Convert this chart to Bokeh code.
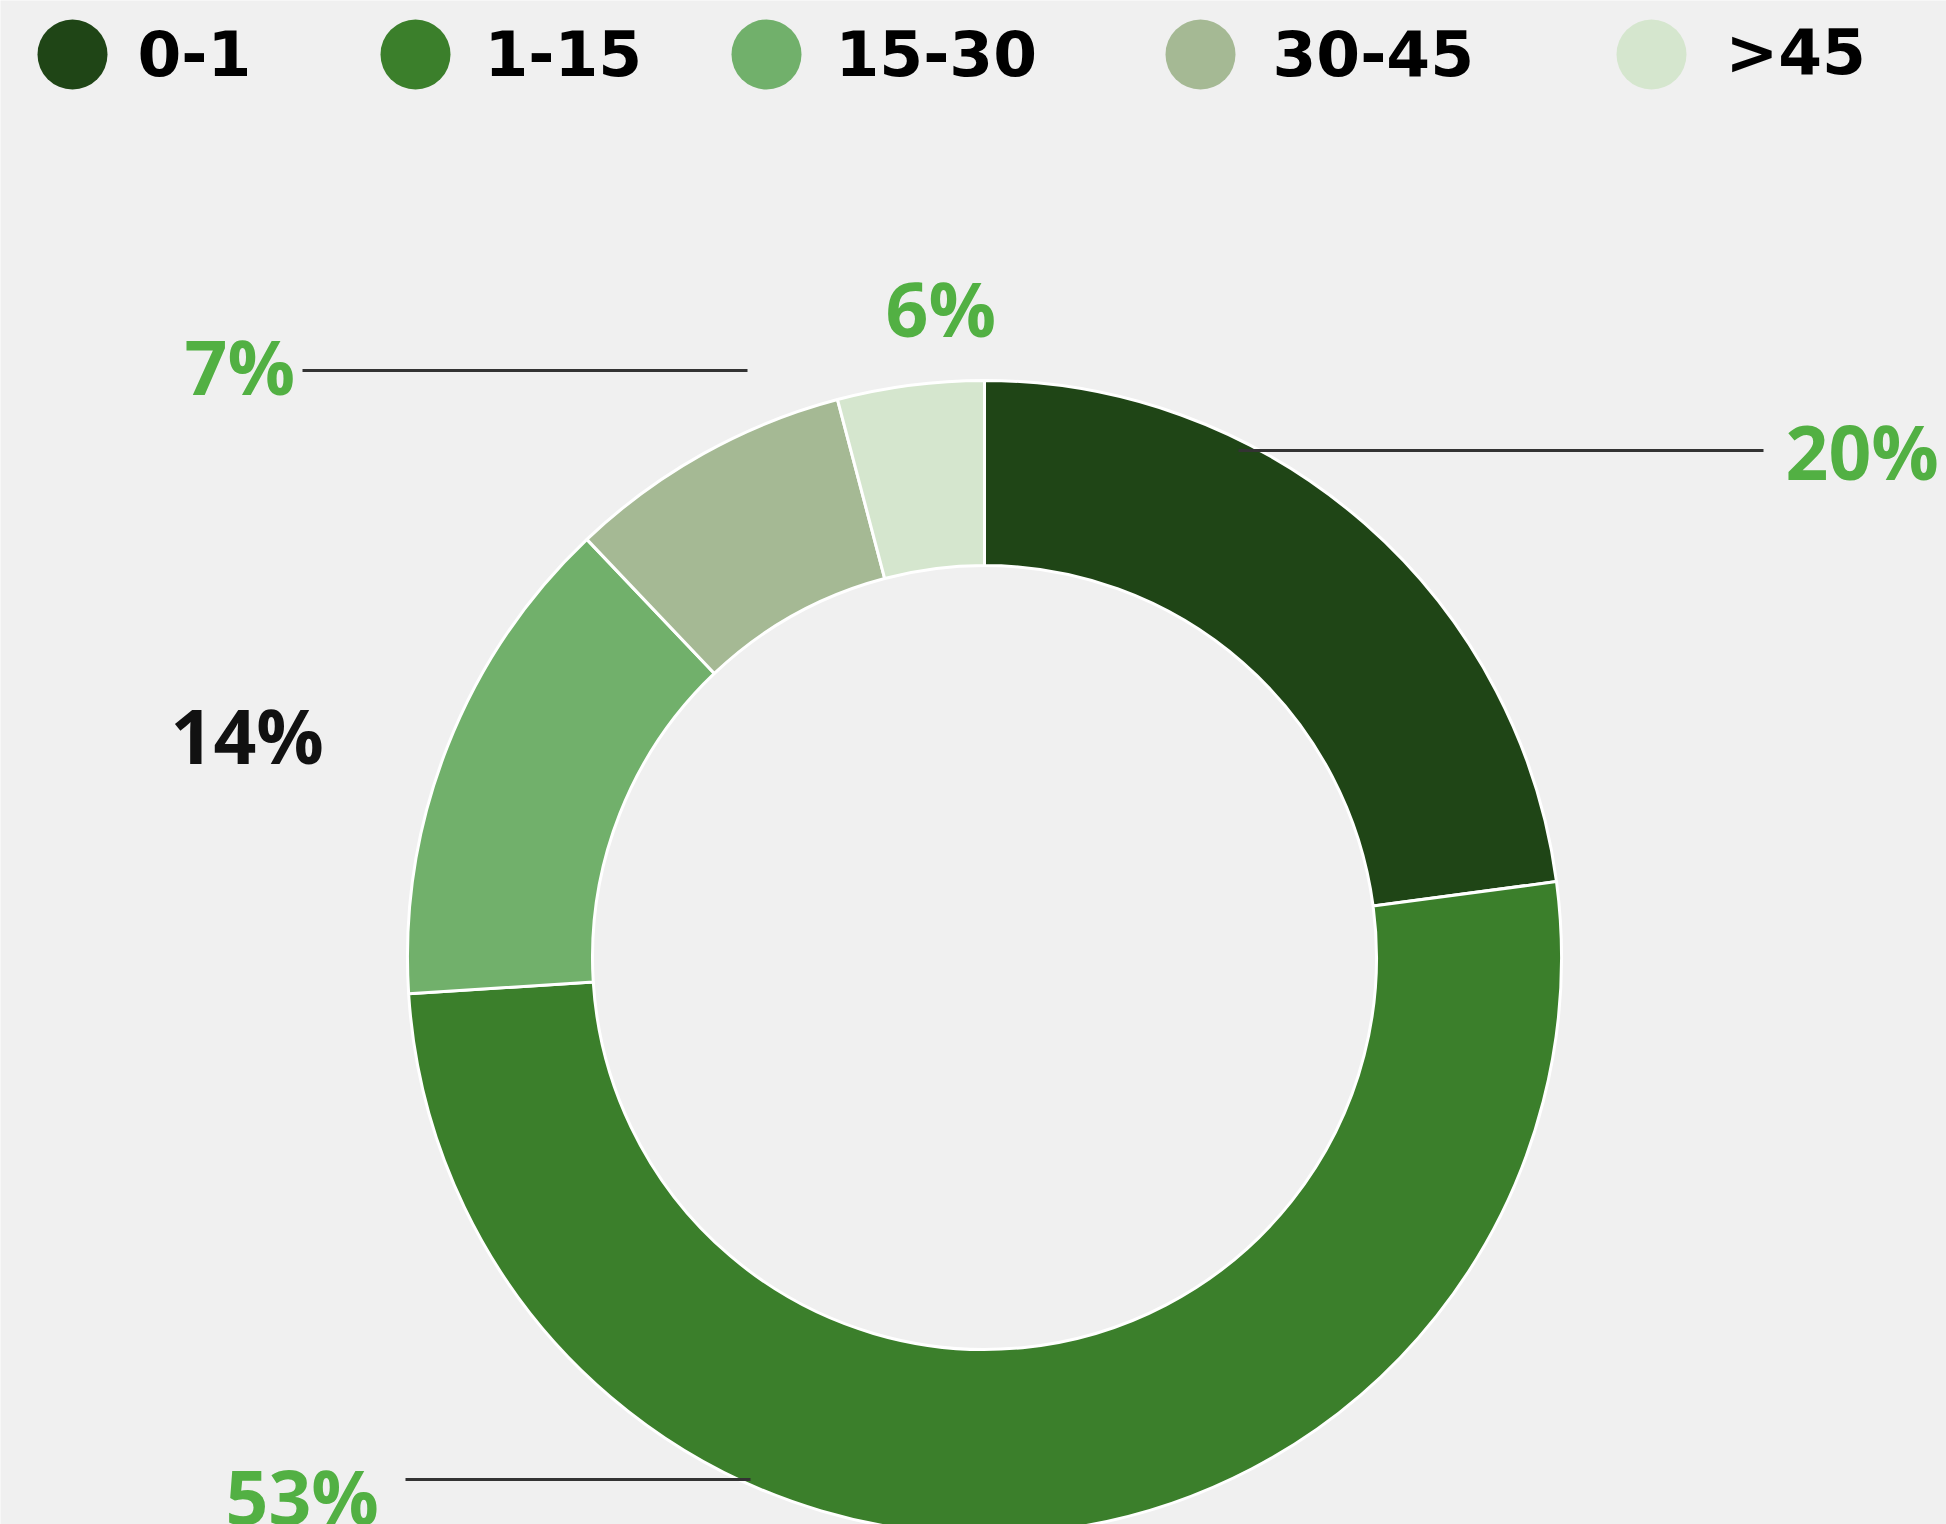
import numpy as np
from bokeh.plotting import figure
from bokeh.models import ColumnDataSource, Range1d
from bokeh.core.properties import value
from bokeh.embed import file_html
from bokeh.resources import INLINE

# ---- data ----
categories = ["0-1", "1-15", "15-30", "30-45", ">45"]
shares = [22.9, 51.1, 13.9, 8.0, 4.1]          # slice sizes as drawn (percent of ring)
pct_labels = ["20%", "53%", "14%", "7%", "6%"]  # printed labels
colors = ["#1f4516", "#3b7f2b", "#71b06b", "#a5b994", "#d5e6ce"]

BG = "#f0f0f0"
W, H = 1946, 1524
CX, CY = 984, 957          # donut centre in page pixels
R_IN, R_OUT = 392, 577
OFF = 0                    # page offset of the figure

# data coordinates: 1 unit = 1 px, origin at donut centre, y up
p = figure(width=W, height=H, output_backend="svg", toolbar_location=None,
           x_axis_type=None, y_axis_type=None,
           x_range=Range1d(OFF - CX, OFF + W - CX), y_range=Range1d(CY - (OFF + H), CY - OFF),
           min_border=0, background_fill_color=BG, border_fill_color=BG,
           outline_line_color=None)
p.grid.visible = False

# ---- donut ----
frac = np.array(shares) / np.sum(shares)
ends_cw = np.cumsum(frac) * 2 * np.pi
starts_cw = ends_cw - frac * 2 * np.pi
src = ColumnDataSource(dict(
    cat=categories, color=colors,
    start=np.pi / 2 - starts_cw, end=np.pi / 2 - ends_cw,
))
p.annular_wedge(x=0, y=0, inner_radius=R_IN, outer_radius=R_OUT,
                start_angle="start", end_angle="end", direction="clock",
                fill_color="color", line_color="white", line_width=3, source=src)

# ---- percentage labels ----
lab_x = [801, -759, -814, -800, -99]
lab_y = np.array([479, -566, 195, 564, 622]) + 28
lab_col = ["#52b043", "#52b043", "#111111", "#52b043", "#52b043"]
p.text(x=lab_x, y=lab_y, text=pct_labels, text_color=lab_col,
       text_font=value("Open Sans"), text_font_style="bold", text_font_size="75px",
       text_align="left", text_baseline="alphabetic")

# leader lines (20%, 7%, 53%)
p.segment(x0=[254, -682, -579], y0=[507, 587, -522],
          x1=[779, -237, -234], y1=[507, 587, -522],
          line_color="#333333", line_width=3)

# ---- legend ----
leg_circle_x = np.array([72, 415, 766, 1200, 1651]) - CX
leg_text_x = np.array([137, 484, 835, 1272, 1725]) - CX
p.scatter(x=leg_circle_x, y=[CY - 54] * 5, size=70, marker="circle",
          fill_color=colors, line_color=None)
p.text(x=leg_text_x, y=[CY - 52] * 5, text=categories, text_color="#000000",
       text_font=value("DejaVu Sans"), text_font_style="bold", text_font_size="63px",
       text_align="left", text_baseline="alphabetic")

open("out.html", "w").write(file_html(p, INLINE))
